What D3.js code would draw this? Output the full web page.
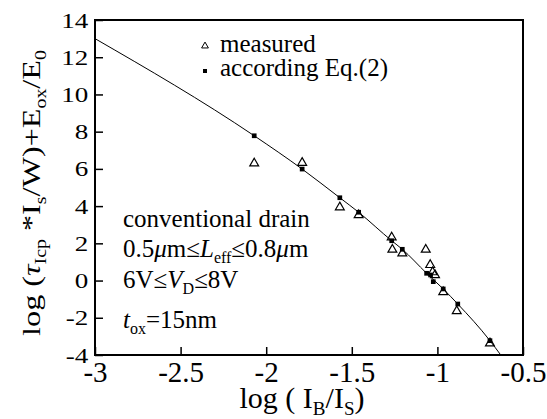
<!DOCTYPE html>
<html>
<head>
<meta charset="utf-8">
<script src="https://cdn.jsdelivr.net/npm/d3@7"></script>
</head>
<body style="margin:0">
<div id="chart"></div>
<script>
// chart size
var width = 547;
var height = 419;
var fontFace = "'Times New Roman', 'Liberation Serif', serif";

// measured points (open triangles)
var measuredX = [-2.07, -1.79, -1.57, -1.46, -1.267, -1.263, -1.205, -1.068, -1.042, -1.028, -1.014, -0.966, -0.887, -0.693];
var measuredY = [6.30, 6.33, 3.94, 3.52, 2.32, 1.66, 1.46, 1.66, 0.84, 0.45, 0.30, -0.62, -1.64, -3.37];

// values according Eq.(2) (filled squares)
var eqX = [-2.07, -1.79, -1.57, -1.46, -1.267, -1.205, -1.063, -1.04, -1.024, -0.966, -0.881, -0.693];
var eqY = [7.78, 5.99, 4.45, 3.67, 2.14, 1.68, 0.39, 0.30, -0.06, -0.45, -1.26, -3.23];

// fitted curve
var curveX = [-3, -2.07, -1.79, -1.57, -1.46, -1.267, -1.205, -1.063, -0.966, -0.881, -0.693, -0.63];
var curveY = [13.0, 7.78, 5.99, 4.45, 3.67, 2.14, 1.68, 0.39, -0.45, -1.26, -3.23, -4.0];

// ticks
var xTicks = [-3, -2.5, -2, -1.5, -1, -0.5];
var yTicks = [-4, -2, 0, 2, 4, 6, 8, 10, 12, 14];

var margin = { left: 95, right: 24, top: 20, bottom: 64 };

var svg = d3
  .select("#chart")
  .append("svg")
  .attr("width", width)
  .attr("height", height)
  .style("font-family", fontFace);

var xScale = d3.scaleLinear().domain([-3, -0.5]).range([margin.left, width - margin.right]);
var yScale = d3.scaleLinear().domain([-4, 14]).range([height - margin.bottom, margin.top]);

// x axis, ticks pointing inward
var xAxis = svg
  .append("g")
  .attr("transform", "translate(0," + yScale(-4) + ")")
  .call(
    d3.axisBottom(xScale)
      .tickValues(xTicks)
      .tickSize(-8)
      .tickPadding(6)
      .tickFormat(function(d) { return String(d); })
  )
  .attr("font-family", null);
xAxis.select(".domain").remove();
xAxis.selectAll("line").attr("stroke-width", 1.5);
xAxis.selectAll("text").style("font-size", "29px");

// y axis
var yAxis = svg
  .append("g")
  .attr("transform", "translate(" + xScale(-3) + ",0)")
  .call(
    d3.axisLeft(yScale)
      .tickValues(yTicks)
      .tickSize(-8)
      .tickPadding(5.5)
      .tickFormat(function(d) { return String(d); })
  )
  .attr("font-family", null);
yAxis.select(".domain").remove();
yAxis.selectAll("line").attr("stroke-width", 1.5);
yAxis.selectAll("text")
  .style("font-size", "22px")
  .attr("transform", "scale(1.23,1)");

// frame
svg
  .append("rect")
  .attr("x", xScale(-3))
  .attr("y", yScale(14))
  .attr("width", xScale(-0.5) - xScale(-3))
  .attr("height", yScale(-4) - yScale(14))
  .attr("fill", "none")
  .attr("stroke", "#000")
  .attr("stroke-width", 2);

// curve
var curveLine = d3.line()
  .x(function(d) { return xScale(d[0]); })
  .y(function(d) { return yScale(d[1]); })
  .curve(d3.curveMonotoneX);

svg
  .append("path")
  .datum(d3.zip(curveX, curveY))
  .attr("d", curveLine)
  .attr("fill", "none")
  .attr("stroke", "#000")
  .attr("stroke-width", 1);

// squares
svg
  .selectAll(".eq")
  .data(d3.zip(eqX, eqY))
  .enter()
  .append("path")
  .attr("class", "eq")
  .attr("d", d3.symbol(d3.symbolSquare).size(22))
  .attr("transform", function(d) { return "translate(" + xScale(d[0]) + "," + yScale(d[1]) + ")"; })
  .attr("fill", "#000");

// triangles
svg
  .selectAll(".meas")
  .data(d3.zip(measuredX, measuredY))
  .enter()
  .append("path")
  .attr("class", "meas")
  .attr("d", d3.symbol(d3.symbolTriangle).size(34))
  .attr("transform", function(d) { return "translate(" + xScale(d[0]) + "," + yScale(d[1]) + ")"; })
  .attr("fill", "none")
  .attr("stroke", "#000")
  .attr("stroke-width", 1.2);

// legend
svg.append("path")
  .attr("d", d3.symbol(d3.symbolTriangle).size(20))
  .attr("transform", "translate(205,46)")
  .attr("fill", "none")
  .attr("stroke", "#000")
  .attr("stroke-width", 1);
svg.append("text").attr("x", 220).attr("y", 52).style("font-size", "25px").text("measured");
svg.append("path")
  .attr("d", d3.symbol(d3.symbolSquare).size(16))
  .attr("transform", "translate(205,71)")
  .attr("fill", "#000");
svg.append("text").attr("x", 220).attr("y", 76).style("font-size", "25px").text("according Eq.(2)");

// helper to write text with italic / subscript parts
function richText(g, parts) {
  parts.forEach(function(p) {
    var t = g.append("tspan").text(p.t);
    if (p.i) t.style("font-style", "italic");
    if (p.sub) {
      t.style("font-size", p.size + "px").attr("dy", p.sub);
    } else if (p.dy) {
      t.attr("dy", p.dy);
    }
  });
}

// condition text
svg.append("text").attr("x", 123).attr("y", 227).style("font-size", "25px").text("conventional drain");
richText(svg.append("text").attr("x", 123).attr("y", 257).style("font-size", "25px"), [
  { t: "0.5" }, { t: "\u03bc", i: true }, { t: "m\u2264" }, { t: "L", i: true },
  { t: "eff", sub: 6, size: 16 }, { t: "\u22640.8", dy: -6 }, { t: "\u03bc", i: true }, { t: "m" }
]);
richText(svg.append("text").attr("x", 123).attr("y", 288).style("font-size", "25px"), [
  { t: "6V\u2264" }, { t: "V", i: true }, { t: "D", sub: 6, size: 16 }, { t: "\u22648V", dy: -6 }
]);
richText(svg.append("text").attr("x", 123).attr("y", 328).style("font-size", "25px"), [
  { t: "t", i: true }, { t: "ox", sub: 6, size: 16 }, { t: "=15nm", dy: -6 }
]);

// x axis label
richText(svg.append("text")
  .attr("x", 302)
  .attr("y", 408)
  .attr("text-anchor", "middle")
  .style("font-size", "30px"), [
  { t: "log ( I" }, { t: "B", sub: 7, size: 19 }, { t: "/I", dy: -7 }, { t: "S", sub: 7, size: 19 }, { t: ")", dy: -7 }
]);

// y axis label
richText(svg.append("text")
  .attr("transform", "translate(40,193) rotate(-90) scale(1.24,1)")
  .attr("text-anchor", "middle")
  .style("font-size", "26px"), [
  { t: "log (" }, { t: "\u03c4", i: true }, { t: "Icp", sub: 6, size: 16 }, { t: " *I", dy: -6 },
  { t: "s", sub: 6, size: 16 }, { t: "/W)+E", dy: -6 }, { t: "ox", sub: 6, size: 16 }, { t: "/E", dy: -6 },
  { t: "0", sub: 6, size: 16 }
]);
</script>
</body>
</html>
